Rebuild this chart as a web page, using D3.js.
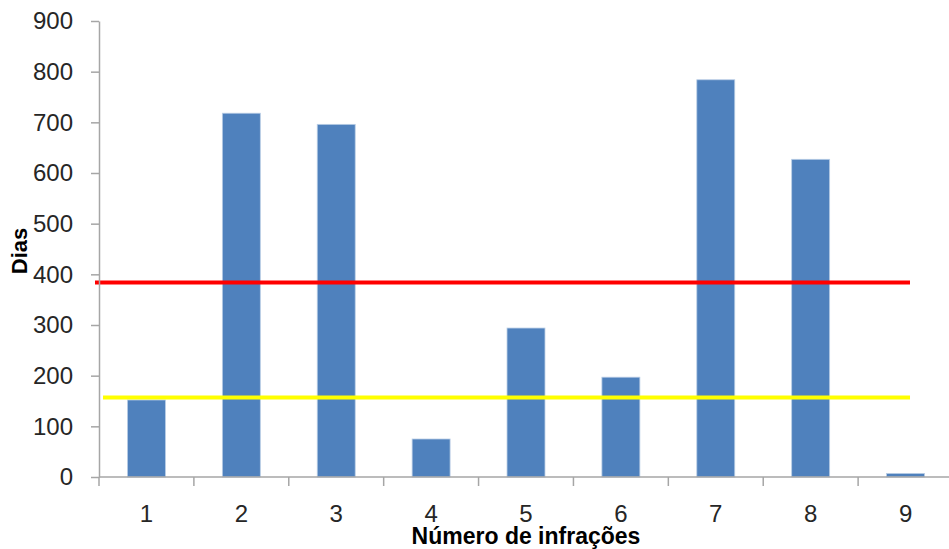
<!DOCTYPE html>
<html>
<head>
<meta charset="utf-8">
<script src="https://cdn.jsdelivr.net/npm/d3@7"></script>
<style>
  html, body { margin: 0; padding: 0; background: #fff; }
  svg { display: block; }
</style>
</head>
<body>
<svg id="chart" width="949" height="549"></svg>
<script>
// Dias por número de infrações
const categories = ["1", "2", "3", "4", "5", "6", "7", "8", "9"];
const dias = [152, 718, 696, 75, 294, 197, 784, 627, 7];
const yTicks = [0, 100, 200, 300, 400, 500, 600, 700, 800, 900];
// horizontal reference levels
const refValues = [384, 157];
const refColors = ["#FF0000", "#FFFF00"];

(function () {
  const svg = d3.select("#chart");
  const plotLeft = 99, plotRight = 953, plotTop = 21, plotBottom = 477;
  const axisColor = "#A6A6A6";
  const textColor = "#262626";
  const tickFont = "Liberation Sans, Arial, sans-serif";

  const x = d3.scaleBand()
    .domain(categories)
    .range([plotLeft, plotRight])
    .paddingInner(0.6)
    .paddingOuter(0.3);

  const y = d3.scaleLinear()
    .domain([0, 900])
    .range([plotBottom, plotTop]);

  // bars
  svg.append("g")
    .selectAll("rect")
    .data(dias)
    .join("rect")
    .attr("x", (d, i) => x(categories[i]))
    .attr("y", d => y(d))
    .attr("width", x.bandwidth())
    .attr("height", d => y(0) - y(d))
    .attr("fill", "#4F81BD")
    .attr("stroke", "#B9CDE5")
    .attr("stroke-width", 0.8);

  // reference lines
  const refX = [[95, 910], [103, 910]];
  svg.append("g")
    .selectAll("line")
    .data(refValues)
    .join("line")
    .attr("x1", (d, i) => refX[i][0])
    .attr("x2", (d, i) => refX[i][1])
    .attr("y1", d => y(d))
    .attr("y2", d => y(d))
    .attr("stroke", (d, i) => refColors[i])
    .attr("stroke-width", 4);

  // y axis
  const yAxis = svg.append("g")
    .attr("transform", `translate(${plotLeft},0)`)
    .call(d3.axisLeft(y).tickValues(yTicks).tickSize(8).tickPadding(18).tickSizeOuter(0));
  yAxis.select(".domain").attr("stroke", axisColor).attr("stroke-width", 1.5);
  yAxis.selectAll(".tick line").attr("stroke", axisColor).attr("stroke-width", 1.5);
  yAxis.selectAll(".tick text")
    .attr("fill", textColor)
    .style("font-family", tickFont)
    .style("font-size", "24px");

  // x axis: ticks sit on category boundaries
  const xAxisG = svg.append("g").attr("transform", `translate(0,${plotBottom})`);
  xAxisG.append("line")
    .attr("x1", plotLeft).attr("x2", plotRight)
    .attr("stroke", axisColor).attr("stroke-width", 1.5);
  xAxisG.selectAll("line.tk")
    .data(categories.concat(["end"]))
    .join("line")
    .attr("class", "tk")
    .attr("x1", (d, i) => plotLeft + i * x.step())
    .attr("x2", (d, i) => plotLeft + i * x.step())
    .attr("y1", 0).attr("y2", 9)
    .attr("stroke", axisColor).attr("stroke-width", 1.5);
  xAxisG.selectAll("text")
    .data(categories)
    .join("text")
    .attr("x", d => x(d) + x.bandwidth() / 2)
    .attr("y", 45)
    .attr("text-anchor", "middle")
    .attr("fill", textColor)
    .style("font-family", tickFont)
    .style("font-size", "24px")
    .text(d => d);

  // axis titles
  svg.append("text")
    .attr("x", 526)
    .attr("y", 544)
    .attr("text-anchor", "middle")
    .attr("fill", "#000")
    .style("font-family", tickFont)
    .style("font-weight", "bold")
    .style("font-size", "23px")
    .text("Número de infrações");

  svg.append("text")
    .attr("transform", "translate(27,251) rotate(-90)")
    .attr("text-anchor", "middle")
    .attr("fill", "#000")
    .style("font-family", tickFont)
    .style("font-weight", "bold")
    .style("font-size", "22px")
    .text("Dias");
})();
</script>
</body>
</html>
